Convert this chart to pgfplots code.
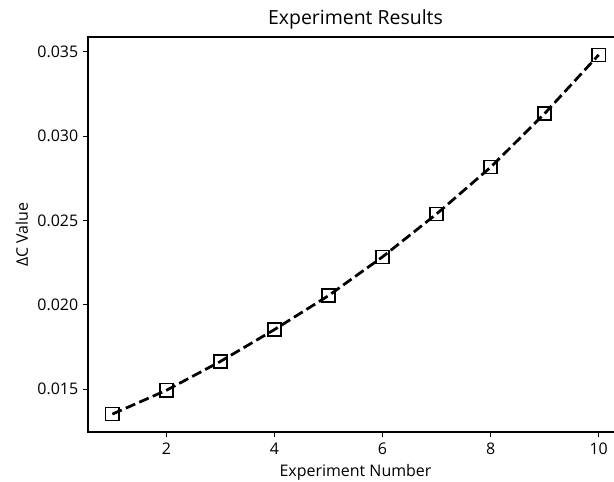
\documentclass[border=0pt]{standalone}
\usepackage{pgfplots}
\pgfplotsset{compat=1.18}
\usepackage{fontspec}
\setmainfont{Open Sans}
\begin{document}
\begin{tikzpicture}
\begin{axis}[
  at={(0,0)}, anchor=south west,
  scale only axis,
  width=385.2pt, height=284.4pt,
  xmin=0.55, xmax=10.45,
  ymin=0.01247, ymax=0.03588,
  xtick={2,4,6,8,10},
  ytick={0.015,0.020,0.025,0.030,0.035},
  scaled y ticks=false,
  yticklabel style={/pgf/number format/fixed, /pgf/number format/fixed zerofill, /pgf/number format/precision=3},
  /pgf/number format/assume math mode=true,
  tick align=outside, xtick pos=lower, ytick pos=left,
  major tick length=3.5pt,
  axis line style={line width=0.8pt},
  tick style={line width=0.8pt, black},
  tick label style={font=\fontsize{11.5}{13}\selectfont},
  xticklabel style={yshift=-1pt},
  label style={font=\fontsize{11.5}{13}\selectfont},
  title style={font=\fontsize{14}{16}\selectfont, yshift=-4pt},
  title={Experiment Results},
  xlabel={Experiment Number},
  ylabel={ΔC Value},
  xlabel style={yshift=0pt},
  ylabel style={yshift=0pt},
]
\addplot[black, line width=2pt, dash pattern=on 7.4pt off 3.2pt,
  mark=square, mark size=4.7pt, mark options={solid, fill=none, line width=1pt}]
  coordinates {
  (1,0.01353) (2,0.01494) (3,0.01665) (4,0.01854) (5,0.02055)
  (6,0.02285) (7,0.02539) (8,0.02816) (9,0.03134) (10,0.03482)
  };
\end{axis}
\pgfresetboundingbox
\useasboundingbox (-63.36pt,-36pt) rectangle (378.72pt,311.04pt);
\end{tikzpicture}
\end{document}
